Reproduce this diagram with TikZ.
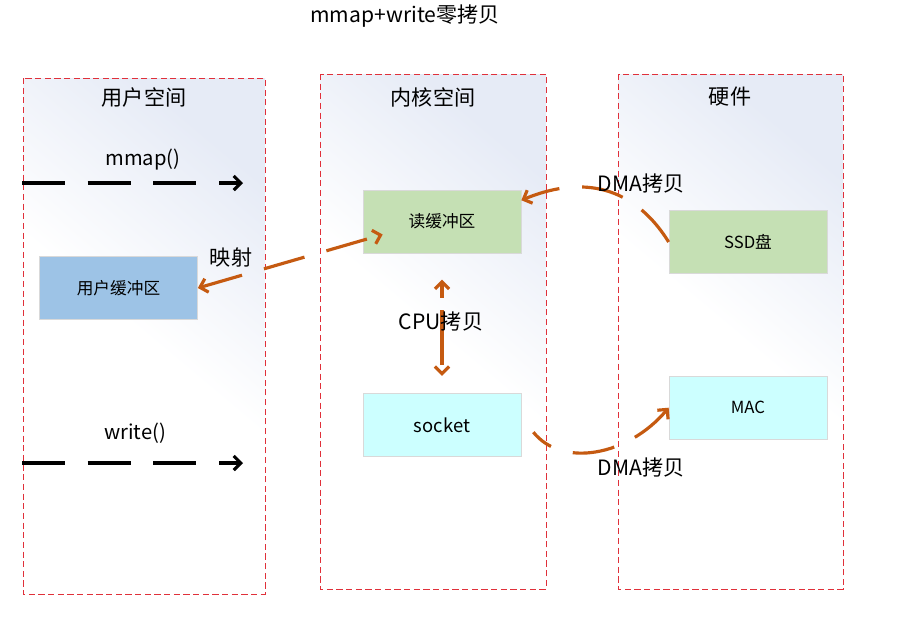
\documentclass[tikz,border=0pt]{standalone}
\usepackage{fontspec}
\setmainfont{Noto Sans CJK SC}
\usepackage{tikz}
\usetikzlibrary{arrows.meta,positioning}

\definecolor{dashred}{HTML}{E0303A}
\definecolor{copyline}{HTML}{C55A11}
\definecolor{panelbg}{HTML}{E6EBF6}
\definecolor{bufblue}{HTML}{9DC3E6}
\definecolor{bufgreen}{HTML}{C5E0B4}
\definecolor{bufcyan}{HTML}{CCFFFF}

\begin{document}
\begin{tikzpicture}[
    x=0.02cm, y=-0.02cm,
    node distance=2.8cm,
    panel/.style={draw=dashred, dash pattern=on 3.5pt off 2pt, line width=0.5pt, bottom color=white, top color=panelbg, middle color=white, shading angle=-40},
    paneltitle/.style={font=\fontsize{12}{14}\selectfont},
    mybuf/.style={draw=black!15, line width=0.4pt, minimum width=3.16cm, minimum height=1.26cm, inner sep=0pt, font=\fontsize{9.5}{11}\selectfont},
    mylabel/.style={font=\fontsize{11.5}{13}\selectfont, inner sep=1pt},
    callline/.style={-{Straight Barb[length=4pt,width=8pt]}, line width=1.8pt, dash pattern=on 24.4pt off 13pt},
    copyedge/.style={line width=1.8pt, copyline, dash pattern=on 24pt off 13pt, >={Straight Barb[length=4pt,width=8pt]}}
]
\useasboundingbox[fill=white] (0,0) rectangle (900,620);

% title
\node[paneltitle] (title) at (405,16) {mmap+write零拷贝};

% the three spaces
\draw[panel] (23,78) rectangle (265,594);
\draw[panel] (320,74) rectangle (546,589);
\draw[panel] (618,74) rectangle (843,589);
\node[paneltitle] (usertitle) at (144,97) {用户空间};
\node[paneltitle] (kerneltitle) at (433,97) {内核空间};
\node[paneltitle] (hwtitle) at (730,97) {硬件};

% buffers
\node[mybuf, fill=bufblue] (ubuf) at (118.5,288) {用户缓冲区};
\node[mybuf, fill=bufgreen] (rbuf) at (442,221.5) {读缓冲区};
\node[mybuf, fill=bufcyan, font=\fontsize{10.5}{12}\selectfont] (socket) [below=of rbuf] {socket};
\node[mybuf, fill=bufgreen] (ssd) at (748,242) {SSD盘};
\node[mybuf, fill=bufcyan] (mac) [below=2.04cm of ssd] {MAC};

% system calls
\coordinate (mmapstart) at (22,183);
\coordinate (mmapend) at (243,183);
\coordinate (writestart) at (22,463);
\coordinate (writeend) at (243,463);
\draw[callline] (mmapstart) -- (mmapend);
\draw[callline] (writestart) -- (writeend);
\node[mylabel] (mmaplabel) at (143,160) {mmap()};
\node[mylabel] (writelabel) at (135,433) {write()};

% copies
\draw[copyedge, <->] (ubuf.east) -- ([shift={(20,13)}]rbuf.west);
\node[mylabel, font=\fontsize{12}{14}\selectfont] (maplabel) at (231,257) {映射};

\draw[copyedge, <->, dash pattern=on 8.5pt off 6.8pt on 31pt off 6.8pt on 20pt] ([yshift=-15]rbuf.south) -- ([yshift=10]socket.north);
\node[mylabel, font=\fontsize{12}{14}\selectfont] (cpulabel) at (441,321) {CPU拷贝};

\draw[copyedge, ->] (ssd.west) .. controls (630,180) and (575,178) .. (rbuf.15);
\node[mylabel, font=\fontsize{12}{14}\selectfont] (dmaread) at (641,183) {DMA拷贝};

\draw[copyedge, ->, dash phase=11pt] ([shift={(12,7)}]socket.east) .. controls (562,468) and (628,456) .. (mac.west);
\node[mylabel, font=\fontsize{12}{14}\selectfont] (dmasend) at (641,467) {DMA拷贝};
\end{tikzpicture}
\end{document}
